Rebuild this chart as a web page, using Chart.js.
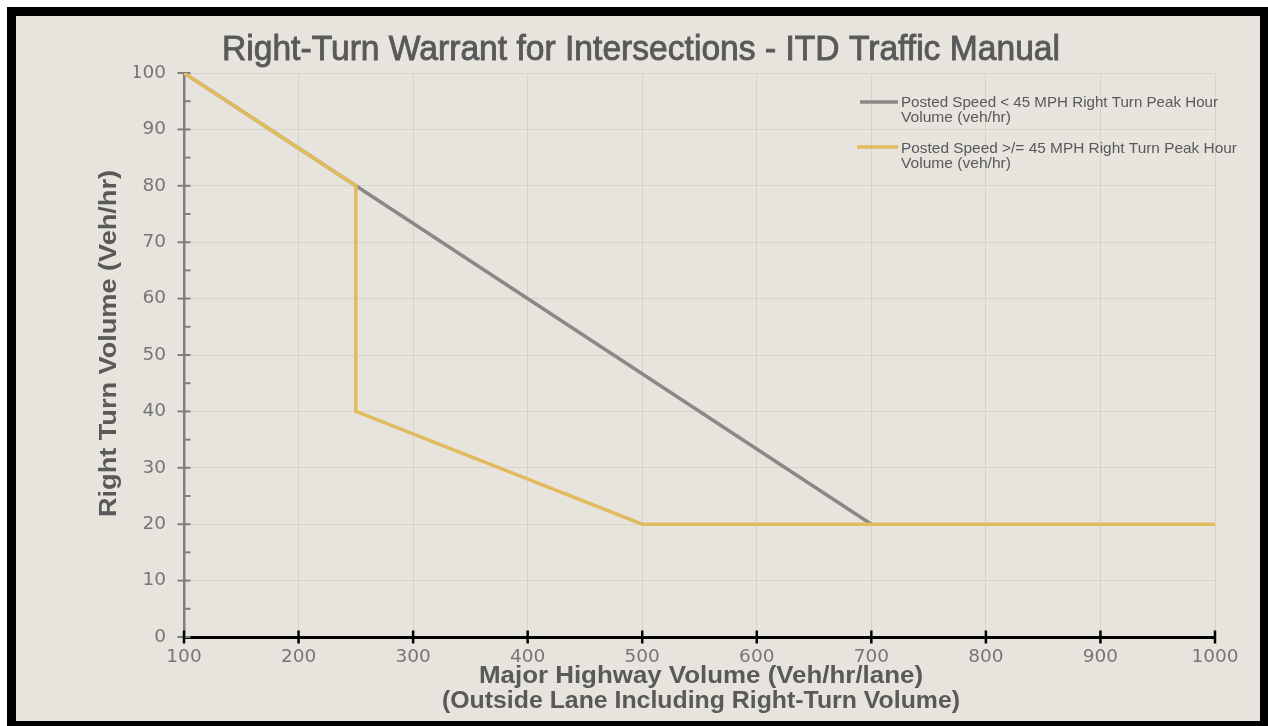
<!DOCTYPE html>
<html>
<head>
<meta charset="utf-8">
<script src="https://cdn.jsdelivr.net/npm/chart.js@4.4.1/dist/chart.umd.min.js"></script>
<style>
  html, body { margin: 0; padding: 0; background: #ffffff; overflow: hidden; width: 1268px; height: 726px; }
  #frame { position: absolute; left: 7px; top: 7px; width: 1262px; height: 723px; box-sizing: border-box;
           border: 9px solid #000; background: #e7e4de; }
  #c { position: absolute; left: 0; top: 0; }
</style>
</head>
<body>
<div id="frame"></div>
<canvas id="c" width="1268" height="726"></canvas>
<script>
// ---- Data ----
const lowSpeedX = [100, 250, 700];
const lowSpeedY = [100, 80, 20];
const highSpeedX = [100, 250, 250, 500, 1000];
const highSpeedY = [100, 80, 40, 20, 20];

const lowSpeedLabel = ['Posted Speed < 45 MPH Right Turn Peak Hour', 'Volume (veh/hr)'];
const highSpeedLabel = ['Posted Speed >/= 45 MPH Right Turn Peak Hour', 'Volume (veh/hr)'];

const xTicks = [100, 200, 300, 400, 500, 600, 700, 800, 900, 1000];
const yTicks = [0, 10, 20, 30, 40, 50, 60, 70, 80, 90, 100];

const chartTitle = 'Right-Turn Warrant for Intersections - ITD Traffic Manual';
const yTitle = 'Right Turn Volume (Veh/hr)';
const xTitle = ['Major Highway Volume (Veh/hr/lane)', '(Outside Lane Including Right-Turn Volume)'];

const GRAY = '#8b8985';
const GOLD = '#e2bb5f';
const TEXT_DARK = '#595959';
const FONT = '"Liberation Sans", Arial, sans-serif';

function pts(xs, ys) { return xs.map((x, i) => ({ x: x, y: ys[i] })); }

function fitText(ctx, text, x, y, targetW, size, weight, color, align, rot, strokeW) {
  ctx.save();
  ctx.font = weight + ' ' + size + 'px ' + FONT;
  const w = ctx.measureText(text).width;
  ctx.translate(x, y);
  if (rot) ctx.rotate(rot);
  ctx.scale(targetW / w, 1);
  ctx.textAlign = align;
  ctx.textBaseline = 'alphabetic';
  ctx.fillStyle = color;
  ctx.fillText(text, 0, 0);
  if (strokeW) { ctx.strokeStyle = color; ctx.lineWidth = strokeW; ctx.strokeText(text, 0, 0); }
  ctx.restore();
}

const decorPlugin = {
  id: 'decor',
  beforeDatasetsDraw(chart) {
    const ctx = chart.ctx;
    const xs = chart.scales.x, ys = chart.scales.y;
    const ax = xs.getPixelForValue(xTicks[0]);
    const ay = ys.getPixelForValue(yTicks[0]);
    ctx.save();
    ctx.strokeStyle = '#7f7f7f';
    ctx.lineWidth = 2;
    yTicks.forEach(v => {
      const py = ys.getPixelForValue(v);
      ctx.beginPath(); ctx.moveTo(ax - 6.5, py); ctx.lineTo(ax + 6.5, py); ctx.stroke();
    });
    for (let i = 0; i < yTicks.length - 1; i++) {
      const py = ys.getPixelForValue((yTicks[i] + yTicks[i + 1]) / 2);
      ctx.beginPath(); ctx.moveTo(ax, py); ctx.lineTo(ax + 6.5, py); ctx.stroke();
    }
    ctx.strokeStyle = '#000';
    ctx.lineWidth = 2.5;
    xTicks.forEach(v => {
      const px = xs.getPixelForValue(v);
      ctx.beginPath(); ctx.moveTo(px, ay - 6.5); ctx.lineTo(px, ay + 6.5); ctx.stroke();
    });
    ctx.restore();
  },
  afterDraw(chart) {
    const ctx = chart.ctx;
    fitText(ctx, chartTitle, 641, 60, 838, 35, 'normal', TEXT_DARK, 'center', 0, 0.9);
    fitText(ctx, yTitle, 116, 343.5, 347, 23, 'bold', TEXT_DARK, 'center', -Math.PI / 2);
    fitText(ctx, xTitle[0], 701, 683, 444, 23, 'bold', TEXT_DARK, 'center', 0);
    fitText(ctx, xTitle[1], 701, 708, 518, 23, 'bold', TEXT_DARK, 'center', 0);
    const entries = [
      { lines: lowSpeedLabel, color: chart.data.datasets[0].borderColor, ly: 102, x0: 860, b: [107, 122], w: [317, 110] },
      { lines: highSpeedLabel, color: chart.data.datasets[1].borderColor, ly: 147, x0: 857, b: [152.5, 168], w: [336, 110] }
    ];
    entries.forEach(e => {
      ctx.save();
      ctx.strokeStyle = e.color; ctx.lineWidth = 3.5;
      ctx.beginPath(); ctx.moveTo(e.x0, e.ly); ctx.lineTo(898, e.ly); ctx.stroke();
      ctx.restore();
      e.lines.forEach((t, i) => fitText(ctx, t, 901, e.b[i], e.w[i], 14.5, 'normal', TEXT_DARK, 'left', 0));
    });
  }
};

new Chart(document.getElementById('c'), {
  type: 'scatter',
  data: {
    datasets: [
      { label: lowSpeedLabel.join(' '), data: pts(lowSpeedX, lowSpeedY), showLine: true, order: 1,
        borderColor: GRAY, backgroundColor: GRAY, borderWidth: 3.5, pointRadius: 0, tension: 0 },
      { label: highSpeedLabel.join(' '), data: pts(highSpeedX, highSpeedY), showLine: true, order: 0,
        borderColor: GOLD, backgroundColor: GOLD, borderWidth: 3.5, pointRadius: 0, tension: 0 }
    ]
  },
  options: {
    responsive: false,
    animation: false,
    devicePixelRatio: 1,
    layout: { padding: { left: 134, right: 53, top: 73, bottom: 59 } },
    plugins: { legend: { display: false }, tooltip: { enabled: false }, title: { display: false } },
    scales: {
      x: {
        type: 'linear', min: xTicks[0], max: xTicks[xTicks.length - 1],
        afterFit: s => { s.height = 30; },
        afterBuildTicks: s => { s.ticks = xTicks.map(v => ({ value: v })); },
        ticks: { color: '#767676', font: { family: '"DejaVu Sans", sans-serif', size: 18.5 }, padding: 3, maxRotation: 0, autoSkip: false,
                 callback: v => String(v) },
        grid: { color: '#d7d3cb', lineWidth: 1, drawTicks: true, tickLength: 6, tickColor: 'rgba(0,0,0,0)' },
        border: { display: true, color: '#000', width: 3 }
      },
      y: {
        type: 'linear', min: yTicks[0], max: yTicks[yTicks.length - 1],
        afterFit: s => { s.width = 50; },
        afterBuildTicks: s => { s.ticks = yTicks.map(v => ({ value: v })); },
        ticks: { color: '#767676', font: { family: '"DejaVu Sans", sans-serif', size: 18.5 }, padding: 12, autoSkip: false,
                 callback: v => String(v) },
        grid: { color: '#d7d3cb', lineWidth: 1, drawTicks: true, tickLength: 6, tickColor: 'rgba(0,0,0,0)' },
        border: { display: true, color: '#7f7f7f', width: 2.5 }
      }
    }
  },
  plugins: [decorPlugin]
});
</script>
</body>
</html>
